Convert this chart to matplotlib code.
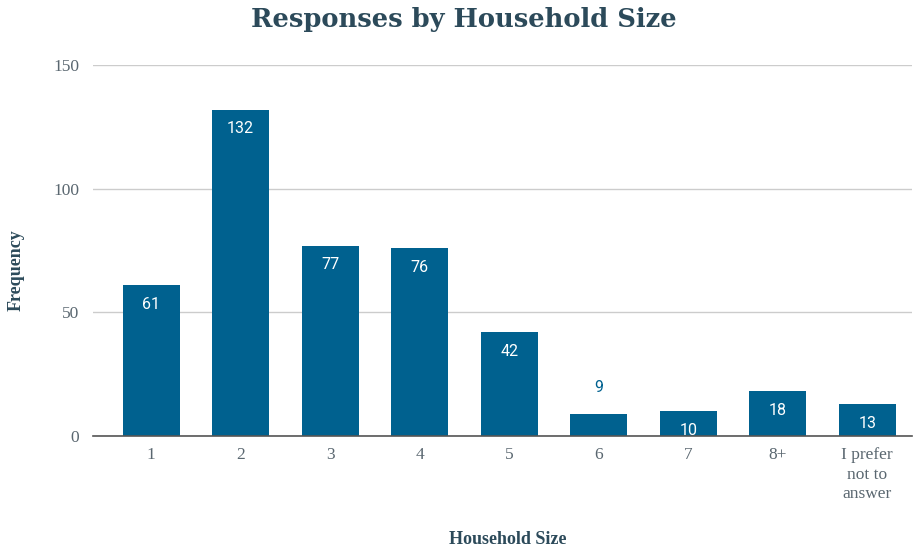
import matplotlib.pyplot as plt

sizes = ['1', '2', '3', '4', '5', '6', '7', '8+', 'I prefer\nnot to\nanswer']
counts = [61, 132, 77, 76, 42, 9, 10, 18, 13]

bar_color = '#00618f'
title_color = '#2c4a5a'
tick_color = '#5a6770'

fig = plt.figure(figsize=(9.14, 5.5), dpi=100)
ax = fig.add_axes([0.1018, 0.2073, 0.8960, 0.6745])

x = range(len(sizes))
bars = ax.bar(x, counts, width=0.64, color=bar_color, zorder=3)

ax.set_xlim(-0.65, 8.5)
ax.set_ylim(0, 150)
ax.set_yticks([0, 50, 100, 150])
ax.set_xticks(list(x))
ax.set_xticklabels(sizes, fontfamily='Liberation Serif', fontsize=12.5,
                   color=tick_color, linespacing=1.3)
for lab in ax.get_yticklabels():
    lab.set_fontfamily('Liberation Serif')
    lab.set_fontsize(12.5)
    lab.set_color(tick_color)
ax.tick_params(axis='both', length=0)
ax.tick_params(axis='y', pad=10)
ax.tick_params(axis='x', pad=8)

ax.grid(axis='y', color='#cccccc', linewidth=1, zorder=0)
for s in ['top', 'right', 'left']:
    ax.spines[s].set_visible(False)
ax.spines['bottom'].set_color('#555555')
ax.spines['bottom'].set_linewidth(1.2)
ax.spines['bottom'].set_zorder(4)

for xi, v in zip(x, counts):
    if v >= 10:
        ax.text(xi, v - 4.8, str(v), ha='center', va='top', color='white',
                fontfamily='Roboto', fontsize=11.5, zorder=5)
    else:
        ax.text(xi, v + 7.5, str(v), ha='center', va='bottom', color=bar_color,
                fontfamily='Roboto', fontsize=11.5, zorder=5)

fig.text(0.508, 0.965, 'Responses by Household Size', ha='center', va='center',
         fontfamily='DejaVu Serif', fontweight='bold', fontsize=18.5, color=title_color)
fig.text(0.018, 0.508, 'Frequency', ha='center', va='center', rotation=90,
         fontfamily='Liberation Serif', fontweight='bold', fontsize=13, color=title_color)
fig.text(0.555, 0.02, 'Household Size', ha='center', va='center',
         fontfamily='Liberation Serif', fontweight='bold', fontsize=13, color=title_color)

fig.savefig('out.png', dpi=100)
